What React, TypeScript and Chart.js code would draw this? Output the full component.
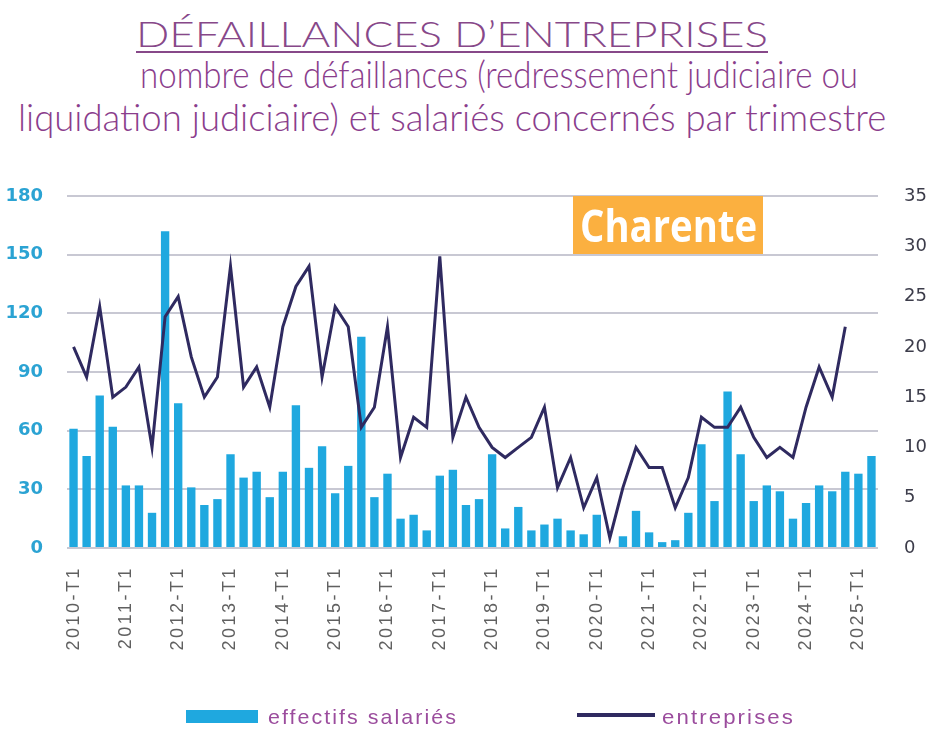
import React, { useEffect, useMemo, useRef } from 'react';
import { Chart, registerables } from 'chart.js';

Chart.register(...registerables);

// ---------- DATA ----------
const years = [2010, 2011, 2012, 2013, 2014, 2015, 2016, 2017, 2018, 2019, 2020, 2021, 2022, 2023, 2024, 2025];
const quarters = ['T1', 'T2', 'T3', 'T4'];
const categories = years.flatMap((y) => quarters.map((q) => `${y}-${q}`)).slice(0, 62);

// effectifs salariés (left axis)
const effectifsSalaries = [
  61, 47, 78, 62, 32, 32, 18, 162,
  74, 31, 22, 25,
  48, 36, 39, 26,
  39, 73, 41, 52,
  28, 42, 108, 26,
  38, 15, 17, 9,
  37, 40, 22, 25,
  48, 10, 21, 9,
  12, 15, 9, 7,
  17, 0, 6, 19,
  8, 3, 4, 18,
  53, 24, 80, 48,
  24, 32, 29, 15,
  23, 32, 29, 39,
  38, 47,
];

// entreprises (right axis)
const entreprises: (number | null)[] = [
  20, 17, 24, 15, 16, 18, 10, 23,
  25, 19, 15, 17,
  28, 16, 18, 14,
  22, 26, 28, 17,
  24, 22, 12, 14,
  22, 9, 13, 12,
  29, 11, 15, 12,
  10, 9, 10, 11,
  14, 6, 9, 4,
  7, 1, 6, 10,
  8, 8, 4, 7,
  13, 12, 12, 14,
  11, 9, 10, 9,
  14, 18, 15, 22,
  null, null,
];

const leftAxis = { min: 0, max: 180, step: 30 };
const rightAxis = { min: 0, max: 35, step: 5 };

const titleText = 'DÉFAILLANCES D’ENTREPRISES';
const subtitleLines = [
  'nombre de défaillances (redressement judiciaire ou',
  'liquidation judiciaire) et salariés concernés par trimestre',
];
const legendLabels = ['effectifs salariés', 'entreprises'];
const regionLabel = 'Charente';

// ---------- STYLE ----------
const BAR = '#1fa8df';
const LINE = '#2f2a60';
const PURPLE = '#874889';
const SUB = '#8a3d8c';
const LEG = '#9b4c9d';

type FitProps = {
  text: string;
  left: number;
  baseline: number;
  width: number;
  size: number;
  family: string;
  weight?: number | string;
  color: string;
  spacing?: number;
};

function FitText({ text, left, baseline, width, size, family, weight = 400, color, spacing = 0 }: FitProps) {
  const m = useMemo(() => {
    const ctx = document.createElement('canvas').getContext('2d')!;
    ctx.font = `${weight} ${size}px ${family}`;
    const mt = ctx.measureText(text);
    const w = mt.width + spacing * text.length;
    const asc = (mt as any).fontBoundingBoxAscent ?? size * 0.9;
    const desc = (mt as any).fontBoundingBoxDescent ?? size * 0.25;
    return { w, asc, desc };
  }, [text, size, family, weight, spacing]);
  const lh = Math.round(size * 1.5);
  const top = baseline - ((lh - (m.asc + m.desc)) / 2 + m.asc);
  return (
    <div
      style={{
        position: 'absolute',
        left,
        top,
        fontFamily: family,
        fontSize: size,
        fontWeight: weight as any,
        lineHeight: `${lh}px`,
        letterSpacing: spacing ? `${spacing}px` : 'normal',
        color,
        whiteSpace: 'nowrap',
        transform: `scaleX(${width / m.w})`,
        transformOrigin: '0 0',
      }}
    >
      {text}
    </div>
  );
}

const xLetterSpacing = {
  id: 'xLetterSpacing',
  afterLayout(chart: any) {
    const sc = chart.scales.x;
    if (sc && !sc.__patched) {
      const orig = sc.drawLabels.bind(sc);
      sc.drawLabels = (area: any) => {
        const ctx = chart.ctx as any;
        ctx.save();
        ctx.letterSpacing = '2.5px';
        orig(area);
        ctx.restore();
      };
      sc.__patched = true;
    }
  },
};

export default function App() {
  const canvasRef = useRef<HTMLCanvasElement | null>(null);

  useEffect(() => {
    document.body.style.margin = '0';
    const canvas = canvasRef.current!;
    const chart = new Chart(canvas, {
      type: 'bar',
      data: {
        labels: categories,
        datasets: [
          {
            type: 'line',
            label: legendLabels[1],
            data: entreprises,
            yAxisID: 'y1',
            borderColor: LINE,
            backgroundColor: LINE,
            borderWidth: 3,
            pointRadius: 0,
            tension: 0,
            spanGaps: false,
            order: 0,
          } as any,
          {
            type: 'bar',
            label: legendLabels[0],
            data: effectifsSalaries,
            yAxisID: 'y',
            backgroundColor: BAR,
            categoryPercentage: 1,
            barPercentage: 0.64,
            order: 1,
          } as any,
        ],
      },
      options: {
        responsive: false,
        animation: false,
        layout: { padding: { left: 0, right: 0, top: 196, bottom: 52 } },
        plugins: {
          legend: { display: false },
          tooltip: { enabled: false },
          title: { display: false },
        },
        scales: {
          x: {
            type: 'category',
            offset: true,
            grid: { display: false, drawTicks: false },
            border: { display: false },
            ticks: {
              autoSkip: false,
              maxRotation: 90,
              minRotation: 90,
              padding: 18,
              color: '#606060',
              font: { family: '"Liberation Sans", Arial, sans-serif', size: 18 },
              callback: (_v: any, i: number) => (i % 4 === 0 ? categories[i] : ''),
            },
            afterFit: (s: any) => {
              s.height = 130;
            },
          },
          y: {
            position: 'left',
            min: leftAxis.min,
            max: leftAxis.max,
            grid: { color: '#c8c8d3', lineWidth: 2, drawTicks: false },
            border: { display: false },
            ticks: {
              stepSize: leftAxis.step,
              padding: 24,
              color: '#2ba3d3',
              font: { family: '"DejaVu Sans", sans-serif', size: 18, weight: 'bold' },
            },
            afterFit: (s: any) => {
              s.width = 67;
            },
          },
          y1: {
            position: 'right',
            min: rightAxis.min,
            max: rightAxis.max,
            grid: { display: false, drawTicks: false },
            border: { display: false },
            ticks: {
              stepSize: rightAxis.step,
              padding: 26,
              color: '#3c3c4a',
              font: { family: '"DejaVu Sans", sans-serif', size: 18 },
            },
            afterFit: (s: any) => {
              s.width = 54;
            },
          },
        } as any,
      },
      plugins: [xLetterSpacing as any],
    });
    return () => chart.destroy();
  }, []);

  return (
    <div style={{ position: 'relative', width: 932, height: 730, background: '#fff', overflow: 'hidden' }}>
      <FitText text={titleText} left={136} baseline={47} width={632} size={35} family="Lato" weight={300} color={PURPLE} />
      <div style={{ position: 'absolute', left: 136, top: 51, width: 632, height: 2, background: PURPLE }} />
      <FitText text={subtitleLines[0]} left={140} baseline={88} width={718} size={37} family="Lato" weight={300} color={SUB} />
      <FitText text={subtitleLines[1]} left={18} baseline={131} width={869} size={37} family="Lato" weight={300} color={SUB} />
      <canvas ref={canvasRef} width={932} height={730} style={{ position: 'absolute', left: 0, top: 0 }} />
      <div style={{ position: 'absolute', left: 573, top: 196, width: 190, height: 58, background: '#fbb040' }} />
      <FitText text={regionLabel} left={580} baseline={242} width={177} size={45} family='"Open Sans"' weight={700} color="#ffffff" />
      <div style={{ position: 'absolute', left: 186, top: 710, width: 72, height: 13, background: BAR }} />
      <FitText text={legendLabels[0]} left={268} baseline={724} width={190} size={21} family='"Liberation Sans"' color={LEG} spacing={2} />
      <div style={{ position: 'absolute', left: 577, top: 713, width: 78, height: 4, background: LINE }} />
      <FitText text={legendLabels[1]} left={662} baseline={724} width={133} size={21} family='"Liberation Sans"' color={LEG} spacing={2} />
    </div>
  );
}
